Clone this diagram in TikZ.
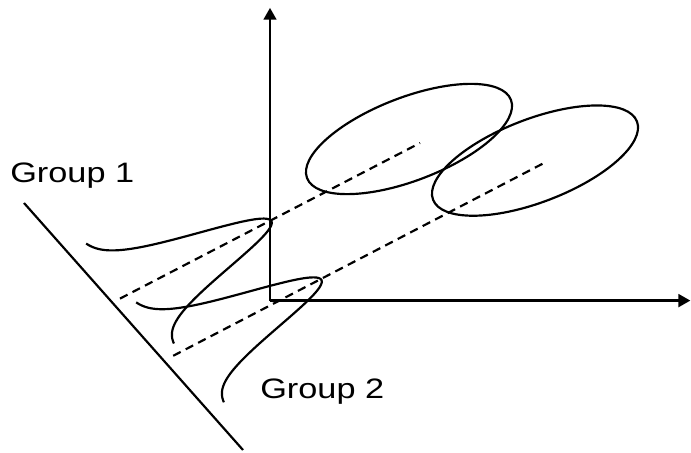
\documentclass[tikz,border=0pt]{standalone}
\usepackage{fontspec}
\newfontfamily\grpfont[FakeStretch=1.22]{Liberation Sans}
\usetikzlibrary{arrows.meta}
\tikzset{>={Triangle[length=8.5pt,width=9pt]}}
\tikzset{
  axisline/.style={line width=1.9pt},
  curve/.style={line width=1.55pt},
  guide/.style={line width=1.55pt,dash pattern=on 6pt off 4pt},
  grplabel/.style={font=\grpfont\fontsize{20}{24}\selectfont,anchor=base west,inner sep=0pt}
}
% bell curve standing on a slanted base, peak along the guide direction
\newcommand{\bellat}[1]{%
  \begin{scope}[shift={(#1)},x={(1.075cm,-1.225cm)},y={(3.575cm,1.85cm)}]
    \draw[curve] plot[domain=-1.02:1.02,samples=90,smooth] (\x,{exp(-\x*\x/0.245)});
  \end{scope}
}
\newcommand{\cloud}[1]{\draw[curve,rotate around={21:(#1)}] (#1) ellipse (2.73 and 1.04);}

\begin{document}
\begin{tikzpicture}
\useasboundingbox (0,0) rectangle (17.275,11.325);
\coordinate (O) at (6.75,3.81);
\coordinate (ytip) at (6.75,11.13);
\coordinate (xtip) at (17.26,3.81);
\coordinate (base top) at (0.6,6.25);
\coordinate (base bot) at (6.075,0.075);
\coordinate (b1) at (3.2,3.96);
\coordinate (b2) at (4.45,2.49);
\coordinate (g1 start) at (3.0,3.86);
\coordinate (g1 end) at (10.5,7.75);
\coordinate (g2 start) at (4.33,2.43);
\coordinate (g2 end) at (13.6,7.25);
\coordinate (e1) at (10.225,7.85);
\coordinate (e2) at (13.375,7.31);
% axes and slanted base
\draw[axisline,->] (O) -- (ytip);
\draw[axisline,->] (O) -- (xtip);
\draw[curve] (base top) -- (base bot);
% guides
\draw[guide] (g1 start) -- (g1 end);
\draw[guide] (g2 start) -- (g2 end);
\bellat{b1} \bellat{b2}
\cloud{e1} \cloud{e2}
\node[grplabel] (grp1) at (0.25,6.75) {Group 1};
\node[grplabel] (grp2) at (6.5,1.35) {Group 2};
\end{tikzpicture}
\end{document}
